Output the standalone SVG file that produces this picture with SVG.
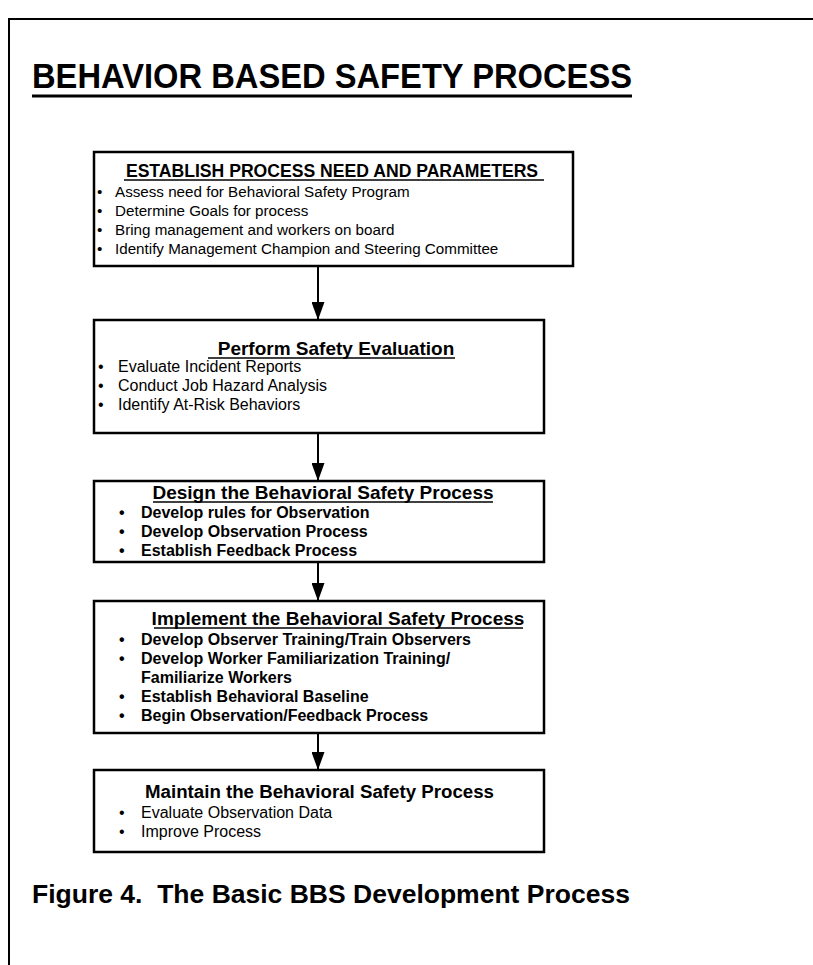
<svg xmlns="http://www.w3.org/2000/svg" width="813" height="965" viewBox="0 0 813 965">
<style>
.box{fill:#fff;stroke:#000;stroke-width:2.5}
.t{font-family:"Liberation Sans",Arial,sans-serif;fill:#000}
.b{font-weight:bold}
.ul{stroke:#000;stroke-width:1.5}
.conn{stroke:#000;stroke-width:2;fill:none}
</style>
<defs>
<marker id="ah" markerUnits="userSpaceOnUse" markerWidth="18" markerHeight="13" refX="18" refY="6.5" orient="auto" viewBox="0 0 18 13">
<path d="M0,0 L18,6.5 L0,13 Z" fill="#000"/>
</marker>
</defs>
<rect width="813" height="965" fill="#fff"/>
<path d="M9,965 V19 H813" fill="none" stroke="#000" stroke-width="2"/>
<g id="title">
<text class="t b" x="32" y="88" font-size="35" textLength="600" lengthAdjust="spacingAndGlyphs">BEHAVIOR BASED SAFETY PROCESS</text>
<line x1="32" y1="96" x2="632" y2="96" stroke="#000" stroke-width="3"/>
</g>
<g id="connectors">
<line class="conn" x1="318" y1="266" x2="318" y2="320" marker-end="url(#ah)"/>
<line class="conn" x1="318" y1="433" x2="318" y2="481" marker-end="url(#ah)"/>
<line class="conn" x1="318" y1="562" x2="318" y2="601" marker-end="url(#ah)"/>
<line class="conn" x1="318" y1="733" x2="318" y2="770" marker-end="url(#ah)"/>
</g>
<g id="node1">
<rect class="box" x="94" y="152" width="479" height="114"/>
<text class="t b" x="332" y="177" font-size="17.6" text-anchor="middle">ESTABLISH PROCESS NEED AND PARAMETERS</text>
<line class="ul" x1="124" y1="180" x2="544" y2="180"/>
<g class="t" font-size="15.2">
<text x="97" y="197">•</text><text x="115" y="197">Assess need for Behavioral Safety Program</text>
<text x="97" y="216">•</text><text x="115" y="216">Determine Goals for process</text>
<text x="97" y="235">•</text><text x="115" y="235">Bring management and workers on board</text>
<text x="97" y="254">•</text><text x="115" y="254">Identify Management Champion and Steering Committee</text>
</g>
</g>
<g id="node2">
<rect class="box" x="94" y="320" width="450" height="113"/>
<text class="t b" x="336" y="355" font-size="19" text-anchor="middle">Perform Safety Evaluation</text>
<line class="ul" x1="208" y1="358" x2="455" y2="358"/>
<g class="t" font-size="16">
<text x="98" y="372">•</text><text x="118" y="372">Evaluate Incident Reports</text>
<text x="98" y="391">•</text><text x="118" y="391">Conduct Job Hazard Analysis</text>
<text x="98" y="410">•</text><text x="118" y="410">Identify At-Risk Behaviors</text>
</g>
</g>
<g id="node3">
<rect class="box" x="94" y="481" width="450" height="81"/>
<text class="t b" x="323" y="499" font-size="19" text-anchor="middle">Design the Behavioral Safety Process</text>
<line class="ul" x1="153" y1="502" x2="493" y2="502"/>
<g class="t b" font-size="16">
<text x="119" y="518">•</text><text x="141" y="518">Develop rules for Observation</text>
<text x="119" y="537">•</text><text x="141" y="537">Develop Observation Process</text>
<text x="119" y="556">•</text><text x="141" y="556">Establish Feedback Process</text>
</g>
</g>
<g id="node4">
<rect class="box" x="94" y="601" width="450" height="132"/>
<text class="t b" x="338" y="625" font-size="19" text-anchor="middle">Implement the Behavioral Safety Process</text>
<line class="ul" x1="154" y1="628" x2="523" y2="628"/>
<g class="t b" font-size="16">
<text x="119" y="645">•</text><text x="141" y="645">Develop Observer Training/Train Observers</text>
<text x="119" y="664">•</text><text x="141" y="664">Develop Worker Familiarization Training/</text>
<text x="141" y="683">Familiarize Workers</text>
<text x="119" y="702">•</text><text x="141" y="702">Establish Behavioral Baseline</text>
<text x="119" y="721">•</text><text x="141" y="721">Begin Observation/Feedback Process</text>
</g>
</g>
<g id="node5">
<rect class="box" x="94" y="770" width="450" height="82"/>
<text class="t b" x="145" y="798" font-size="18.7">Maintain the Behavioral Safety Process</text>
<g class="t" font-size="16">
<text x="119" y="818">•</text><text x="141" y="818">Evaluate Observation Data</text>
<text x="119" y="837">•</text><text x="141" y="837">Improve Process</text>
</g>
</g>
<g id="caption">
<text class="t b" x="32" y="903" font-size="26.5" xml:space="preserve">Figure 4.  The Basic BBS Development Process</text>
</g>
</svg>
